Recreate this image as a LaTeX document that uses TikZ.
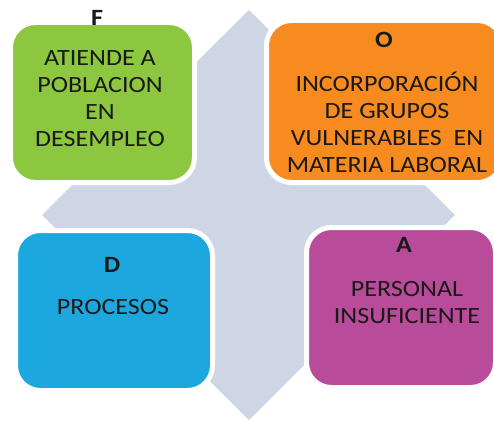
\documentclass[tikz,border=0pt]{standalone}
\usepackage{fontspec}
\setmainfont{Carlito}[FakeStretch=1.12]
\definecolor{bgdia}{RGB}{206,214,230}
\definecolor{cgreen}{RGB}{141,198,63}
\definecolor{corange}{RGB}{247,139,32}
\definecolor{cblue}{RGB}{28,168,222}
\definecolor{cmag}{RGB}{185,75,155}
\definecolor{ctext}{RGB}{25,25,25}
\begin{document}
\begin{tikzpicture}[x=1pt,y=1pt,
  box/.style={draw=white, line width=5pt, rounded corners=25pt, inner sep=0pt},
  txt/.style={text=ctext, font=\fontsize{23.3}{27}\selectfont, align=center, inner sep=0pt},
  letter/.style={text=ctext, font=\fontsize{23.3}{27}\selectfont\bfseries, inner sep=0pt}]
\useasboundingbox (0,0) rectangle (494,421);
% background diamond
\fill[bgdia] (249,411) -- (455,206) -- (249,1) -- (42,206) -- cycle;
% boxes
\node[box, fill=cgreen, minimum width=184pt, minimum height=160pt] (g) at (102.5,318.5) {};
\node[box, fill=corange, minimum width=236pt, minimum height=162pt] (o) at (384.5,319.5) {};
\node[box, fill=cblue, minimum width=197pt, minimum height=160pt] (b) at (114,110.5) {};
\node[box, fill=cmag, minimum width=189pt, minimum height=160pt] (m) at (401,113.5) {};
% texts
\node[letter] (gl) at (97,403) {F};
\node[txt] (gt) at (100,322.5) {ATIENDE A\\POBLACION\\EN\\DESEMPLEO};
\node[letter] (ol) at (384,381) {O};
\node[txt] (ot) at (387,298.5) {INCORPORACIÓN\\DE GRUPOS\\VULNERABLES\ \ EN\\MATERIA LABORAL};
\node[letter] (bl) at (112,156) {D};
\node[txt] (bt) at (113,114) {PROCESOS};
\node[letter] (ml) at (404,176) {A};
\node[txt] (mt) at (407,118) {PERSONAL\\INSUFICIENTE};
\end{tikzpicture}
\end{document}
